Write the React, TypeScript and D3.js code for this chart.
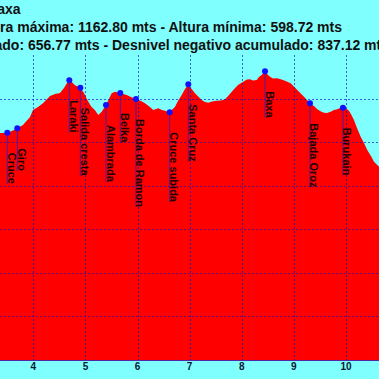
import React, { useEffect, useRef } from "react";
import * as d3 from "d3";

const distanceKm = [
  3.30, 3.361, 3.501, 3.591, 3.693, 3.802, 3.937, 3.994, 4.09, 4.186, 4.32, 4.416, 4.512, 4.589, 4.647, 4.691,
  4.743, 4.8, 4.902, 4.973, 5.03, 5.107, 5.184, 5.247, 5.312, 5.395, 5.504, 5.568, 5.669, 5.792, 5.874,
  5.97, 6.066, 6.143, 6.239, 6.302, 6.398, 6.469, 6.527, 6.617, 6.719, 6.776, 6.847, 6.911, 6.974,
  7.006, 7.102, 7.231, 7.294, 7.358, 7.429, 7.519, 7.601, 7.678, 7.755, 7.837, 7.927, 8.029, 8.1,
  8.158, 8.215, 8.286, 8.33, 8.382, 8.446, 8.503, 8.542, 8.599, 8.67, 8.733, 8.829, 8.939, 9.065,
  9.194, 9.251, 9.309, 9.385, 9.449, 9.52, 9.577, 9.635, 9.706, 9.769, 9.833, 9.885, 9.942, 10.0,
  10.057, 10.105, 10.153, 10.211, 10.282, 10.345, 10.408, 10.479, 10.537, 10.633, 10.75,
];
const elevationM = [
  1019, 1021, 1021.7, 1025.6, 1031.8, 1039.4, 1057.7, 1073.8, 1080.7, 1089.4, 1105.9, 1110.5, 1112.8, 1124.3, 1135.8, 1142.2,
  1137.6, 1130.7, 1124.9, 1112.8, 1098.5, 1082.5, 1073.3, 1062.3, 1069.9, 1085.3, 1112.1, 1115.8, 1112.8, 1108.2, 1103.6,
  1099.0, 1094.5, 1089.2, 1080.7, 1073.8, 1077.7, 1073.8, 1072.2, 1068.5, 1081.4, 1094.4, 1108.2, 1121.9, 1132.8,
  1127.2, 1112.1, 1096.7, 1092.1, 1090.5, 1093.3, 1095.1, 1095.6, 1098.3, 1108.2, 1119.7, 1131.2, 1138.7, 1143.8,
  1144.2, 1141.5, 1142.6, 1149.5, 1154.1, 1162.8, 1154.1, 1150.2, 1146.1, 1146.5, 1144.9, 1141.0, 1135.0, 1119.7,
  1104.3, 1096.7, 1089.2, 1083.0, 1075.4, 1070.3, 1067.6, 1066.9, 1069.9, 1073.8, 1075.4, 1078.4, 1079.1, 1077.3,
  1072.2, 1062.3, 1050.8, 1032.5, 1012.5, 998.0, 982.0, 968.2, 955.1, 943.6, 915,
];

const waypointNames = [
  "Cruce", "Giro", "Laraki", "Salida cresta", "Alambrada", "Belka", "Borda de Ramon",
  "Cruce subida", "Santa Cruz", "Baxa", "Bajada Oroz", "Burukain",
];
const waypointKm = [3.501, 3.693, 4.691, 4.902, 5.395, 5.669, 5.97, 6.617, 6.974, 8.446, 9.309, 9.942];
const waypointEle = [1021.7, 1031.8, 1142.2, 1124.9, 1085.3, 1112.8, 1099.0, 1068.5, 1132.8, 1162.8, 1089.2, 1079.1];

const xTickValues = [4, 5, 6, 7, 8, 9, 10];
const gridElevations = [600, 700, 800, 900, 1000, 1100];

const titleLines = [
  "Baxa",
  "Altura máxima: 1162.80 mts - Altura mínima: 598.72 mts",
  "Desnivel positivo acumulado: 656.77 mts - Desnivel negativo acumulado: 837.12 mts",
];

const W = 379;
const H = 379;
const FONT = "'Liberation Sans', Arial, Helvetica, sans-serif";

export default function App() {
  const ref = useRef<SVGSVGElement>(null);

  useEffect(() => {
    const svg = d3.select(ref.current);
    svg.selectAll("*").remove();

    const x = d3.scaleLinear().domain([4, 10]).range([33.3, 346]);
    const y = d3.scaleLinear().domain([500, 1200]).range([360, 55]);

    svg.append("rect").attr("width", W).attr("height", H).attr("fill", "#80ffff");

    const area = d3
      .area<number>()
      .x((_, i) => x(distanceKm[i]))
      .y0(y(500))
      .y1((d) => y(d));
    svg.append("path").datum(elevationM).attr("d", area).attr("fill", "#ff0000");

    const grid = svg.append("g").attr("stroke", "#1010c0").attr("stroke-opacity", 0.65).attr("stroke-dasharray", "2,2");
    grid
      .selectAll("line.h")
      .data(gridElevations)
      .join("line")
      .attr("x1", 0)
      .attr("x2", W)
      .attr("y1", (d) => Math.round(y(d)) + 0.5)
      .attr("y2", (d) => Math.round(y(d)) + 0.5);
    grid
      .selectAll("line.v")
      .data(xTickValues)
      .join("line")
      .attr("x1", (d) => Math.round(x(d)) + 0.5)
      .attr("x2", (d) => Math.round(x(d)) + 0.5)
      .attr("y1", y(1200))
      .attr("y2", y(500));

    svg
      .append("line")
      .attr("x1", 0)
      .attr("x2", W)
      .attr("y1", y(500) + 0.5)
      .attr("y2", y(500) + 0.5)
      .attr("stroke", "#5028a0")
      .attr("stroke-width", 1);

    svg
      .append("g")
      .selectAll("text")
      .data(xTickValues)
      .join("text")
      .attr("x", (d) => x(d))
      .attr("y", 370)
      .attr("text-anchor", "middle")
      .attr("font-family", FONT)
      .attr("font-weight", "bold")
      .attr("font-size", 10)
      .attr("fill", "#0a1a30")
      .text((d) => String(d));

    // waypoints
    const wp = svg.append("g");
    waypointNames.forEach((name, i) => {
      const px = x(waypointKm[i]);
      const py = y(waypointEle[i]);
      const g = wp.append("g");
      const line = g
        .append("line")
        .attr("x1", px)
        .attr("x2", px)
        .attr("y1", py)
        .attr("stroke", "#2020d0")
        .attr("stroke-opacity", 0.8)
        .attr("stroke-width", 1);
      const t = g
        .append("text")
        .attr("transform", `translate(${px + 0.5},${py + 20}) rotate(90)`)
        .attr("font-family", FONT)
        .attr("font-weight", "bold")
        .attr("font-size", 11)
        .attr("fill", "#1a0000")
        .text(name);
      const len = (t.node() as SVGTextElement).getComputedTextLength();
      line.attr("y2", py + 20 + len);
      g.append("circle").attr("cx", px).attr("cy", py).attr("r", 3).attr("fill", "#1010ff");
    });

    const titleEnds = [20.5, 342, 389];
    const titleBaselines = [13.5, 31.5, 50];
    svg
      .append("g")
      .selectAll("text")
      .data(titleLines)
      .join("text")
      .attr("x", (_, i) => titleEnds[i])
      .attr("y", (_, i) => titleBaselines[i])
      .attr("text-anchor", "end")
      .attr("font-family", FONT)
      .attr("font-weight", "bold")
      .attr("font-size", 14)
      .attr("fill", "#111")
      .text((d) => d);
  }, []);

  return (
    <svg
      ref={ref}
      width={W}
      height={H}
      style={{ position: "absolute", left: 0, top: 0, display: "block" }}
    />
  );
}
